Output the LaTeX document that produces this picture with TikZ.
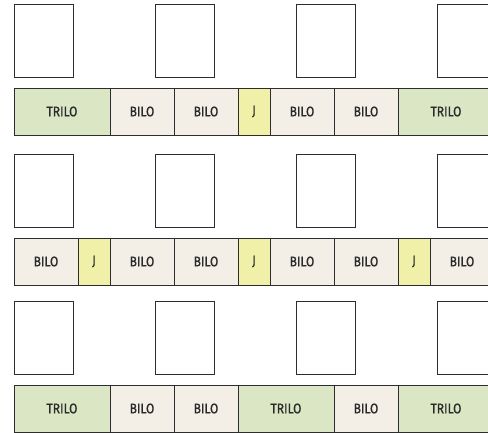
\documentclass[tikz,border=0pt]{standalone}
\usepackage{fontspec}
\setmainfont{Fira Sans}[FakeStretch=0.86, FakeBold=0.6]
\usepackage{tikz}
\usetikzlibrary{positioning}

\definecolor{triloG}{RGB}{219,230,196}
\definecolor{biloB}{RGB}{243,239,231}
\definecolor{jY}{RGB}{240,240,168}
\definecolor{edgeK}{RGB}{45,45,45}

\tikzset{
  cell/.style = {draw = edgeK, line width = 0.9pt, minimum height = 47pt,
                 inner sep = 0pt, outer sep = 0pt, text = edgeK!90!black,
                 font = \fontsize{14}{16}\selectfont},
  trilo/.style = {cell, fill = triloG, minimum width = 96pt},
  bilo/.style  = {cell, fill = biloB, minimum width = 64pt},
  jcell/.style = {cell, fill = jY, minimum width = 32pt},
  tile/.style  = {draw = edgeK, line width = 0.9pt, minimum width = 59pt,
                  minimum height = 73pt, inner sep = 0pt, anchor = north west}
}

\begin{document}
\begin{tikzpicture}[x = 1pt, y = -1pt]
      \clip (0, 0) rectangle (488, 433);
      % empty tiles
      \foreach \r/\y in {1/4, 2/154, 3/301}{
        \foreach \c/\x in {1/14, 2/155, 3/296, 4/437}{
          \node [tile] (tile\r\c) at (\x, \y) {};
        }
      }
      % first strip
      \foreach \kind/\txt [count = \i, remember = \i as \j (initially 0)] in
          {trilo/TRILO, bilo/BILO, bilo/BILO, jcell/J, bilo/BILO, bilo/BILO, trilo/TRILO}{
        \ifnum\i=1
          \node [\kind, anchor = north west] (ra\i) at (14, 88) {\txt};
        \else
          \node [\kind, right = 0pt of ra\j] (ra\i) {\txt};
        \fi
      }
      % second strip
      \foreach \kind/\txt [count = \i, remember = \i as \j (initially 0)] in
          {bilo/BILO, jcell/J, bilo/BILO, bilo/BILO, jcell/J, bilo/BILO, bilo/BILO, jcell/J, bilo/BILO}{
        \ifnum\i=1
          \node [\kind, anchor = north west] (rb\i) at (14, 238) {\txt};
        \else
          \node [\kind, right = 0pt of rb\j] (rb\i) {\txt};
        \fi
      }
      % third strip
      \foreach \kind/\txt [count = \i, remember = \i as \j (initially 0)] in
          {trilo/TRILO, bilo/BILO, bilo/BILO, trilo/TRILO, bilo/BILO, trilo/TRILO}{
        \ifnum\i=1
          \node [\kind, anchor = north west] (rc\i) at (14, 385) {\txt};
        \else
          \node [\kind, right = 0pt of rc\j] (rc\i) {\txt};
        \fi
      }
\end{tikzpicture}
\end{document}
